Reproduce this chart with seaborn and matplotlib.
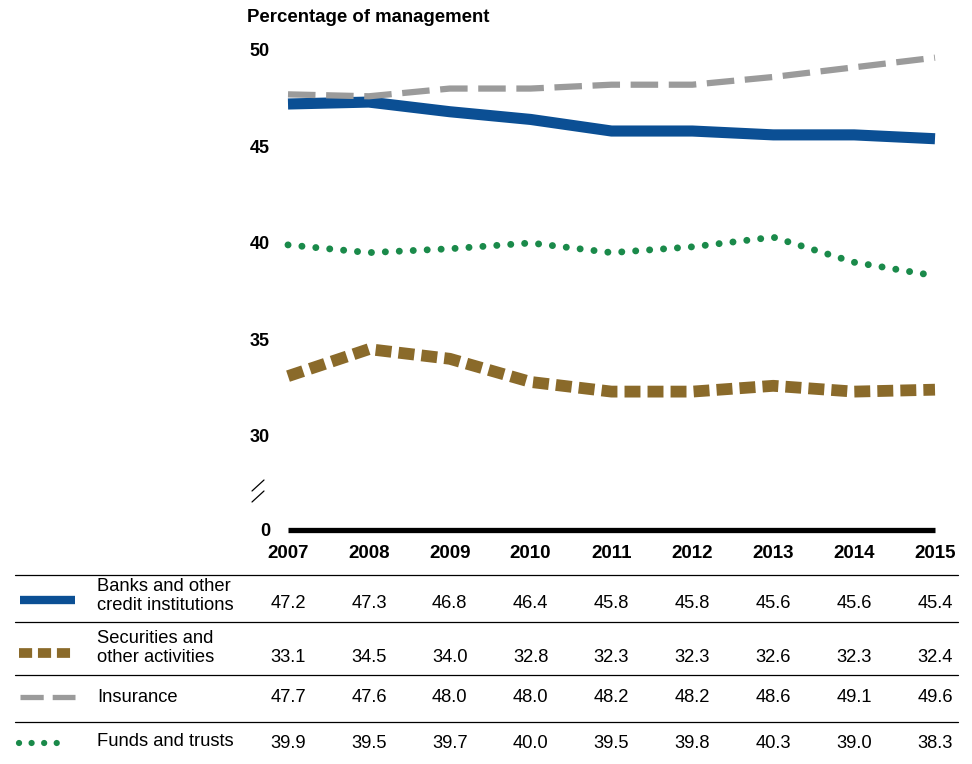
import numpy as np
import pandas as pd
import matplotlib
matplotlib.use("Agg")
import matplotlib.pyplot as plt
import matplotlib.transforms as mtransforms
from matplotlib.lines import Line2D
import seaborn as sns

# ── data ───────────────────────────────────
years = [2007, 2008, 2009, 2010, 2011, 2012, 2013, 2014, 2015]
banks = [47.2, 47.3, 46.8, 46.4, 45.8, 45.8, 45.6, 45.6, 45.4]
securities = [33.1, 34.5, 34.0, 32.8, 32.3, 32.3, 32.6, 32.3, 32.4]
insurance = [47.7, 47.6, 48.0, 48.0, 48.2, 48.2, 48.6, 49.1, 49.6]
funds = [39.9, 39.5, 39.7, 40.0, 39.5, 39.8, 40.3, 39.0, 38.3]

series_names = ["Banks and other\ncredit institutions",
                "Securities and\nother activities",
                "Insurance",
                "Funds and trusts"]
series_values = [banks, securities, insurance, funds]

y_ticks = [30, 35, 40, 45, 50]
y_tick_labels = ["30", "35", "40", "45", "50"]

# ── styles ─────────────────────────────────
sns.set_theme(style="white")
plt.rcParams["font.family"] = ["Liberation Sans", "DejaVu Sans"]
plt.rcParams["text.color"] = "black"

styles = [
    dict(color="#0b4f94", lw=8.0, ls="-", cap="butt"),
    dict(color="#8a6a2a", lw=8.5, ls=(0, (1.35, 0.6)), cap="butt"),
    dict(color="#9b9b9b", lw=4.5, ls=(0, (4.4, 1.7)), cap="butt"),
    dict(color="#1a8a4a", lw=5.0, ls=(0, (0.01, 2.0)), cap="round"),
]

W, H = 972, 764
fig = plt.figure(figsize=(W / 100, H / 100), dpi=100)


def fx(px):
    return px / W


def fy(py):
    return 1 - py / H


ax_left, ax_right, ax_top, ax_bot = 288, 935, 21, 530
ax = fig.add_axes([fx(ax_left), fy(ax_bot), fx(ax_right - ax_left), (ax_bot - ax_top) / H])

y_bottom = 25.13
for vals, st in zip(series_values, styles):
    df = pd.DataFrame({"year": years, "value": vals})
    sns.lineplot(data=df, x="year", y="value", ax=ax, color=st["color"],
                 linewidth=st["lw"], linestyle=st["ls"])
    ax.lines[-1].set_dash_capstyle(st["cap"])
    ax.lines[-1].set_solid_capstyle("butt")
    ax.lines[-1].set_clip_on(False)

ax.set_xlim(years[0], years[-1])
ax.set_ylim(y_bottom, 51.5)
ax.set_xlabel("")
ax.set_ylabel("")
ax.set_yticks([y_bottom] + y_ticks)
ax.set_yticklabels(["0"] + y_tick_labels)
ax.set_xticks(years)
ax.set_xticklabels([str(y) for y in years])
ax.tick_params(axis="y", length=0, pad=13, labelsize=13, labelcolor="black")
ax.tick_params(axis="x", length=0, pad=11, labelsize=13.5, labelcolor="black")
for lab in ax.get_xticklabels() + ax.get_yticklabels():
    lab.set_fontweight("bold")
for side in ["top", "right", "left"]:
    ax.spines[side].set_visible(False)
ax.spines["bottom"].set_linewidth(3.8)
ax.spines["bottom"].set_color("black")
ax.spines["bottom"].set_capstyle("butt")
ax.grid(False)

fig.text(fx(247), fy(18), "Percentage of management", fontsize=13.4,
         fontweight="bold", va="center", ha="left", color="black")

# axis break marks
for y0 in (491, 502):
    fig.add_artist(Line2D([fx(252), fx(264)], [fy(y0), fy(y0 - 11)],
                          color="black", lw=0.9))

# ── table under the chart ──────────────────
for py in (575, 622, 675, 722):
    fig.add_artist(Line2D([fx(15), fx(958)], [fy(py), fy(py)], color="black", lw=0.9))

sample_y = [600, 653, 697, 743]
label_y = [596, 648, 697, 742]
value_y = [604, 657, 697, 743]
blend = mtransforms.blended_transform_factory(ax.transData, fig.transFigure)

sample_lw = [6.0, 7.0, 3.8, 4.5]
sample_x = [(20, 75), (19, 75), (20, 75), (19, 68)]

for i, (name, vals, st) in enumerate(zip(series_names, series_values, styles)):
    sx0, sx1 = sample_x[i]
    ln = Line2D([fx(sx0), fx(sx1)], [fy(sample_y[i]), fy(sample_y[i])], color=st["color"],
                lw=sample_lw[i], linestyle=st["ls"])
    ln.set_dash_capstyle(st["cap"])
    ln.set_solid_capstyle("butt")
    fig.add_artist(ln)
    fig.text(fx(97), fy(label_y[i]), name, fontsize=13.2, va="center", ha="left",
             linespacing=1.2, color="black")
    for yr, v in zip(years, vals):
        fig.text(yr, fy(value_y[i]), f"{v:.1f}", fontsize=13.2, va="center", ha="center",
                 transform=blend, color="black")

fig.savefig("out.png", dpi=100)
